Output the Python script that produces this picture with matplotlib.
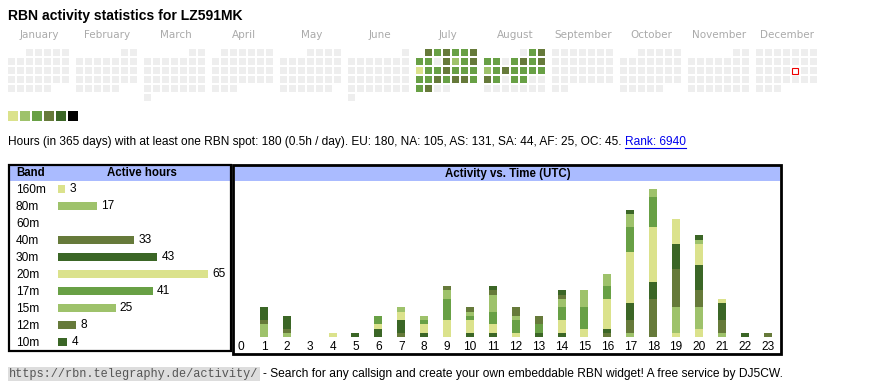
import datetime as dt

import matplotlib
matplotlib.use("Agg")
import matplotlib.pyplot as plt
from matplotlib.patches import Rectangle

W, H = 870, 390

TITLE = "RBN activity statistics for LZ591MK"
YEAR = 2025
MONTHS = ["January", "February", "March", "April", "May", "June", "July",
          "August", "September", "October", "November", "December"]

# colour scale: 0 = no spot, 1..6 = increasing activity
LEVEL_COLORS = ["#eeeeee", "#dbe28c", "#9ec26b", "#68a045", "#667a3a",
                "#3b6626", "#000000"]

# daily activity level, one value per day of month
JULY = [4, 3, 4, 3, 3, 4, 3, 3, 0, 4, 2, 3, 4, 1, 3, 3, 4, 3, 3, 3, 3, 3,
        4, 3, 4, 4, 3, 3, 4, 0, 0]
AUGUST = [0, 3, 4, 3, 3, 0, 3, 4, 3, 4, 2, 3, 4, 3, 3, 3, 3, 4, 3, 0, 3, 3,
          0, 0, 0, 0, 0, 0, 0, 0, 0]
ACTIVE_MONTHS = {7: JULY, 8: AUGUST}
TODAY = (12, 19)

SUMMARY = ("Hours (in 365 days) with at least one RBN spot: 180 (0.5h / day). "
           "EU: 180, NA: 105, AS: 131, SA: 44, AF: 25, OC: 45.")
RANK = "Rank: 6940"

BANDS = ["160m", "80m", "60m", "40m", "30m", "20m", "17m", "15m", "12m", "10m"]
BAND_HOURS = [3, 17, 0, 33, 43, 65, 41, 25, 8, 4]
BAND_COLORS = ["#dbe28c", "#9ec26b", "#68a045", "#667a3a", "#3b6626",
               "#dbe28c", "#68a045", "#9ec26b", "#667a3a", "#3b6626"]

HOURS = list(range(24))
# active hours per band for each UTC hour (0..23)
ACT = {
    "160m": [0, 0, 0, 0, 0, 0, 0, 0, 0, 0, 0, 0, 0, 0, 0, 0, 0, 0, 0, 1, 2, 0, 0, 0],
    "80m":  [0, 3, 1, 0, 0, 0, 0, 0, 0, 0, 0, 0, 0, 0, 0, 0, 0, 1, 0, 6, 5, 1, 0, 0],
    "60m":  [0, 0, 0, 0, 0, 0, 0, 0, 0, 0, 0, 0, 0, 0, 0, 0, 0, 0, 0, 0, 0, 0, 0, 0],
    "40m":  [0, 1, 1, 0, 0, 0, 0, 1, 0, 0, 0, 0, 0, 0, 0, 0, 1, 3, 9, 9, 4, 3, 0, 1],
    "30m":  [0, 3, 3, 0, 0, 1, 2, 3, 1, 0, 1, 1, 0, 1, 1, 0, 1, 4, 4, 6, 6, 4, 1, 0],
    "20m":  [0, 0, 0, 0, 1, 0, 1, 2, 2, 4, 3, 2, 1, 0, 3, 2, 7, 12, 13, 6, 5, 1, 0, 0],
    "17m":  [0, 0, 0, 0, 0, 0, 2, 0, 1, 5, 1, 3, 3, 2, 3, 5, 3, 6, 7, 0, 0, 0, 0, 0],
    "15m":  [0, 0, 0, 0, 0, 0, 0, 1, 1, 2, 1, 4, 1, 0, 2, 4, 3, 3, 2, 0, 1, 0, 0, 0],
    "12m":  [0, 0, 0, 0, 0, 0, 0, 0, 0, 1, 1, 1, 2, 2, 1, 0, 0, 0, 0, 0, 0, 0, 0, 0],
    "10m":  [0, 0, 0, 0, 0, 0, 0, 0, 0, 0, 0, 1, 0, 0, 1, 0, 0, 1, 0, 0, 1, 0, 0, 0],
}

SANS = ["Liberation Sans", "DejaVu Sans"]
HEADER_BG = "#aabbff"


def px_axes(fig, left, top, right, bottom):
    """add axes given pixel box (y from top)"""
    return fig.add_axes([left / W, 1 - bottom / H, (right - left) / W,
                         (bottom - top) / H])


fig = plt.figure(figsize=(W / 100, H / 100), dpi=100)
canvas = fig.add_axes([0, 0, 1, 1])
canvas.set_xlim(0, W)
canvas.set_ylim(H, 0)
canvas.axis("off")

canvas.text(8, 16, TITLE, fontsize=10.05, fontweight="bold", family=SANS,
            va="center", ha="left")

# --- calendar -------------------------------------------------------------
x0, y0, month_w, cell, step = 8, 49, 68, 7, 9
for m in range(1, 13):
    mx = x0 + (m - 1) * month_w
    canvas.text(mx + 31.5, 35, MONTHS[m - 1], fontsize=7.5, color="#aaaaaa",
                ha="center", va="center", family="DejaVu Sans")
    first = dt.date(YEAR, m, 1)
    ndays = ((first.replace(month=m % 12 + 1, year=YEAR + m // 12)) - first).days
    levels = ACTIVE_MONTHS.get(m, [0] * ndays)
    for d in range(1, ndays + 1):
        day = dt.date(YEAR, m, d)
        row = (d - 1 + first.weekday()) // 7
        x = mx + step * day.weekday()
        y = y0 + step * row
        if (m, d) == TODAY:
            canvas.add_patch(Rectangle((x + 0.5, y + 0.5), cell - 1, cell - 1,
                                       fc="white", ec="#ee0000", lw=0.8))
        else:
            canvas.add_patch(Rectangle((x, y), cell, cell, lw=0,
                                       fc=LEVEL_COLORS[levels[d - 1]]))

for i, c in enumerate(LEVEL_COLORS[1:]):
    canvas.add_patch(Rectangle((8 + 12 * i, 111), 10, 10, fc=c, lw=0))

# --- summary line ---------------------------------------------------------
summ = canvas.text(8, 142, SUMMARY + " ", fontsize=8.6, family=SANS,
                   va="center", ha="left")
fig.canvas.draw()
inv = canvas.transData.inverted()
bb = summ.get_window_extent()
rx = inv.transform((bb.x1, bb.y0))[0]
link = canvas.text(rx, 142, RANK, fontsize=8.6, family=SANS, color="#0000ee",
                   va="center", ha="left")
fig.canvas.draw()
lb = link.get_window_extent()
(lx0, ly), (lx1, _) = inv.transform([(lb.x0, lb.y0), (lb.x1, lb.y0)])
canvas.plot([lx0, lx1], [ly - 0.5, ly - 0.5], color="#0000ee", lw=0.8)

# --- boxes and headers ----------------------------------------------------
canvas.add_patch(Rectangle((10, 166), 220, 15, fc=HEADER_BG, lw=0))
canvas.add_patch(Rectangle((235, 166), 545, 15, fc=HEADER_BG, lw=0))
canvas.add_patch(Rectangle((9, 165), 222, 186, fc="none", ec="black", lw=1.6))
canvas.add_patch(Rectangle((233.5, 164.5), 548, 189, fc="none", ec="black",
                           lw=2.0))
canvas.text(16, 173.5, "Band", fontsize=8.3, fontweight="bold", family=SANS,
            va="center", ha="left")
canvas.text(142, 173.5, "Active hours", fontsize=8.3, fontweight="bold",
            family=SANS, va="center", ha="center")
canvas.text(508, 173.5, "Activity vs. Time (UTC)", fontsize=8.3,
            fontweight="bold", family=SANS, va="center", ha="center")

# --- band bars ------------------------------------------------------------
px_hour = 2.31
axb = px_axes(fig, 58, 181, 230, 351)
ypos = list(range(len(BANDS)))
bars = axb.barh(ypos, BAND_HOURS, height=0.45, color=BAND_COLORS)
axb.bar_label(bars, labels=[str(v) if v else "" for v in BAND_HOURS],
              padding=3, fontsize=8.6, family=SANS)
axb.set_xlim(0, 172 / px_hour)
axb.set_ylim(9.53, -0.47)
axb.set_yticks(ypos, BANDS, fontsize=8.6, family=SANS)
for lab in axb.get_yticklabels():
    lab.set_horizontalalignment("left")
axb.tick_params(axis="y", length=0, pad=(58 - 16) * 0.72)
axb.set_xticks([])
for s in axb.spines.values():
    s.set_visible(False)
axb.patch.set_alpha(0)

# --- activity vs time -----------------------------------------------------
hour_px, unit_px = 22.9, 4.23
axa = px_axes(fig, 241 - hour_px / 2, 181, 241 + hour_px * 23.5, 337)
bottom = [0] * len(HOURS)
for band, color in zip(BANDS, BAND_COLORS):
    vals = ACT[band]
    axa.bar(HOURS, vals, bottom=bottom, width=8 / hour_px, color=color,
            lw=0)
    bottom = [b + v for b, v in zip(bottom, vals)]
axa.set_xlim(-0.5, 23.5)
axa.set_ylim(0, (337 - 181) / unit_px)
axa.set_xticks(HOURS, [str(h) for h in HOURS], fontsize=8.6, family=SANS)
axa.tick_params(axis="x", length=0, pad=3)
axa.set_yticks([])
for s in axa.spines.values():
    s.set_visible(False)
axa.patch.set_alpha(0)

# --- footer ---------------------------------------------------------------
canvas.text(9, 374, "https://rbn.telegraphy.de/activity/", fontsize=8.6,
            family=["Liberation Mono", "DejaVu Sans Mono"], color="#555555",
            va="center", ha="left",
            bbox=dict(boxstyle="square,pad=0.12", fc="#dddddd", ec="none"))
canvas.text(263, 374, "- Search for any callsign and create your own "
            "embeddable RBN widget! A free service by DJ5CW.", fontsize=8.65,
            family=SANS, va="center", ha="left")

fig.savefig("out.png", dpi=100)
